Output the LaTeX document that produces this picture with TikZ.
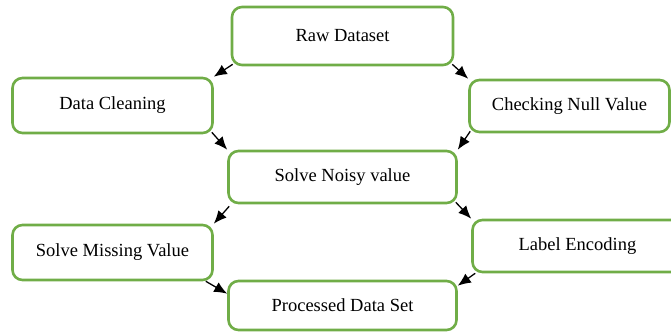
\documentclass[tikz,border=0pt]{standalone}
\usepackage{fontspec}
\setmainfont{Liberation Serif}
\usetikzlibrary{positioning,arrows.meta}
\tikzset{>={Latex[length=13pt,width=11pt]}}
\definecolor{boxgreen}{RGB}{112,173,71}
\tikzset{stage/.style={draw=boxgreen, line width=2.6pt, rounded corners=10pt, fill=white, minimum width=200pt, minimum height=54pt, font=\fontsize{18.5}{20}\selectfont}}

\begin{document}
\begin{tikzpicture}[x=1pt,y=1pt]
      \useasboundingbox (0,0) rectangle (671,-332);
      \node[stage, minimum width=221pt, minimum height=58pt] (n0) at (342.5,-36) {Raw Dataset};
      \node[stage, minimum width=228pt, minimum height=52pt, below of=n0, node distance=141pt] (n3) {Solve Noisy value};
      \node[stage, minimum width=228pt, minimum height=49pt, below of=n3, node distance=128.5pt] (n6) {Processed Data Set};
      \node[stage, minimum height=55pt, left of=n3, node distance=230pt, yshift=71.5pt] (n1) {Data Cleaning};
      \node[stage, minimum height=52pt, right of=n3, node distance=227pt, yshift=71pt] (n2) {Checking Null Value};
      \node[stage, minimum height=55pt, left of=n3, node distance=230pt, yshift=-75.5pt] (n4) {Solve Missing Value};
      \node[stage, minimum width=210pt, minimum height=52pt, right of=n3, node distance=235pt, yshift=-69pt] (n5) {Label Encoding};
      \draw[->, line width=1.3pt] ([shift={(2pt,2pt)}]n0.south west) to (n1.north east);
      \draw[->, line width=1.3pt] ([shift={(-2pt,2pt)}]n0.south east) to (n2.north west);
      \draw[->, line width=1.3pt] ([shift={(-2pt,2pt)}]n1.south east) to (n3.north west);
      \draw[->, line width=1.3pt] ([shift={(2pt,2pt)}]n2.south west) to (n3.north east);
      \draw[->, line width=1.3pt] ([shift={(2pt,-2pt)}]n3.south west) to (n4.north east);
      \draw[->, line width=1.3pt] ([shift={(-2pt,2pt)}]n3.south east) to (n5.north west);
      \draw[->, line width=1.3pt] ([xshift=-8pt]n4.south east) to ([yshift=-14pt]n6.north west);
      \draw[->, line width=1.3pt] ([xshift=4pt]n5.south west) to ([yshift=-6pt]n6.north east);
    \end{tikzpicture}
\end{document}
